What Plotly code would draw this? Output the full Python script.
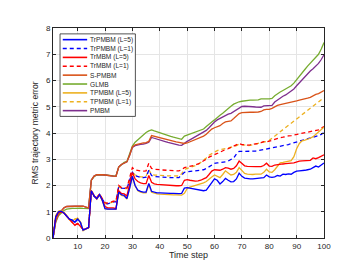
import plotly.graph_objects as go

t = list(range(1, 101))

names = ["TrPMBM (L=5)", "TrPMBM (L=1)", "TrMBM (L=5)", "TrMBM (L=1)", "S-PMBM",
         "GLMB", "TPMBM (L=5)", "TPMBM (L=1)", "PMBM"]

trpmbm_l5 = [0, 0.8, 1.0, 1.02, 0.95, 0.85, 0.72, 0.68, 0.6, 0.72,
             0.6, 0.3, 0.35, 0.4, 1.8, 1.6, 1.5, 1.65, 1.45, 1.12,
             1.1, 1.1, 1.12, 1.1, 1.75, 1.65, 1.62, 1.5, 1.9, 2.35,
             2.0, 1.82, 1.78, 1.75, 1.75, 2.08, 1.78, 1.74, 1.72, 1.72,
             1.71, 1.71, 1.7, 1.7, 1.7, 1.69, 1.69, 1.7, 1.9, 1.92,
             1.9, 1.88, 1.86, 1.84, 1.81, 1.8, 1.82, 1.95, 2.1, 2.25,
             2.2, 2.06, 2.15, 2.27, 2.2, 2.14, 2.15, 2.25, 2.47, 2.35,
             2.28, 2.26, 2.25, 2.25, 2.26, 2.26, 2.27, 2.3, 2.4, 2.33,
             2.31, 2.33, 2.38, 2.36, 2.43, 2.42, 2.44, 2.43, 2.5, 2.55,
             2.56, 2.56, 2.58, 2.6, 2.62, 2.68, 2.74, 2.7, 2.78, 2.86]

trpmbm_l1 = [0, 0.8, 1.0, 1.02, 0.95, 0.85, 0.72, 0.68, 0.6, 0.72,
             0.6, 0.3, 0.35, 0.4, 1.8, 1.6, 1.52, 1.66, 1.48, 1.32,
             1.3, 1.35, 1.38, 1.38, 1.95, 1.9, 1.9, 1.88, 2.2, 2.5,
             2.38, 2.33, 2.31, 2.3, 2.32, 2.58, 2.38, 2.34, 2.33, 2.32,
             2.32, 2.31, 2.31, 2.3, 2.3, 2.3, 2.3, 2.4, 2.5, 2.52,
             2.53, 2.54, 2.55, 2.56, 2.58, 2.6, 2.65, 2.72, 2.78, 2.84,
             2.86, 2.87, 2.89, 2.9, 2.93, 2.98, 3.05, 3.2, 3.3, 3.3,
             3.3, 3.3, 3.3, 3.3, 3.31, 3.33, 3.35, 3.36, 3.37, 3.4,
             3.42, 3.44, 3.46, 3.48, 3.5, 3.52, 3.56, 3.6, 3.63, 3.66,
             3.7, 3.73, 3.75, 3.78, 3.8, 3.83, 3.86, 3.9, 3.95, 4.02]

trmbm_l5 = [0, 0.8, 0.98, 1.0, 0.95, 0.82, 0.7, 0.6, 0.48, 0.55,
            0.45, 0.32, 0.35, 0.4, 1.8, 1.6, 1.5, 1.65, 1.45, 1.2,
            1.15, 1.15, 1.15, 1.12, 1.8, 1.7, 1.68, 1.6, 2.0, 2.5,
            2.25, 2.15, 2.1, 2.07, 2.07, 2.38, 2.12, 2.06, 2.04, 2.03,
            2.02, 2.02, 2.01, 2.0, 2.0, 1.99, 1.99, 2.0, 2.2, 2.22,
            2.2, 2.18, 2.17, 2.18, 2.2, 2.25, 2.3, 2.42, 2.55, 2.6,
            2.6, 2.58, 2.62, 2.68, 2.66, 2.62, 2.65, 2.75, 2.93, 2.82,
            2.75, 2.73, 2.72, 2.72, 2.72, 2.72, 2.72, 2.76, 2.85, 2.74,
            2.73, 2.78, 2.8, 2.8, 2.82, 2.83, 2.85, 2.85, 2.86, 2.9,
            2.93, 2.94, 2.95, 2.96, 2.96, 3.05, 3.02, 3.06, 3.1, 3.17]

trmbm_l1 = [0, 0.8, 0.98, 1.0, 0.95, 0.82, 0.7, 0.6, 0.5, 0.55,
            0.45, 0.32, 0.35, 0.4, 1.82, 1.62, 1.55, 1.68, 1.5, 1.35,
            1.33, 1.38, 1.4, 1.4, 2.0, 1.92, 1.92, 1.9, 2.3, 2.68,
            2.6, 2.56, 2.55, 2.55, 2.56, 2.85, 2.65, 2.62, 2.6, 2.6,
            2.59, 2.58, 2.58, 2.57, 2.57, 2.56, 2.56, 2.6, 2.68, 2.7,
            2.72, 2.74, 2.78, 2.82, 2.87, 2.93, 3.0, 3.08, 3.14, 3.18,
            3.22, 3.28, 3.33, 3.37, 3.4, 3.45, 3.5, 3.55, 3.6, 3.56,
            3.54, 3.54, 3.55, 3.56, 3.58, 3.6, 3.63, 3.67, 3.66, 3.68,
            3.72, 3.76, 3.8, 3.82, 3.84, 3.87, 3.89, 3.9, 3.92, 3.95,
            3.97, 4.0, 4.0, 4.02, 4.05, 4.06, 4.08, 4.12, 4.18, 4.25]

s_pmbm = [0, 0.65, 0.9, 1.05, 1.15, 1.2, 1.21, 1.21, 1.21, 1.21,
          1.21, 1.21, 1.18, 1.15, 2.2, 2.36, 2.41, 2.42, 2.41, 2.4,
          2.38, 2.37, 2.36, 2.35, 2.7, 2.8, 2.86, 2.9, 3.15, 3.47,
          3.55, 3.58, 3.6, 3.62, 3.63, 3.68, 3.9, 3.87, 3.84, 3.81,
          3.78, 3.75, 3.72, 3.7, 3.68, 3.66, 3.64, 3.62, 3.6, 3.62,
          3.66, 3.7, 3.74, 3.78, 3.84, 3.88, 3.95, 4.05, 4.15, 4.2,
          4.24, 4.28, 4.36, 4.42, 4.44, 4.46, 4.55, 4.65, 4.74, 4.78,
          4.79, 4.79, 4.79, 4.79, 4.79, 4.8, 4.82, 4.88, 4.9, 4.9,
          4.94, 5.0, 5.05, 5.08, 5.1, 5.12, 5.15, 5.18, 5.2, 5.22,
          5.25, 5.27, 5.3, 5.33, 5.36, 5.42, 5.47, 5.5, 5.55, 5.62]

glmb = [0, 0.6, 0.85, 0.97, 1.05, 1.1, 1.12, 1.13, 1.13, 1.14,
        1.14, 1.13, 1.12, 1.12, 2.2, 2.34, 2.4, 2.41, 2.41, 2.4,
        2.39, 2.38, 2.37, 2.36, 2.7, 2.8, 2.88, 2.92, 3.2, 3.5,
        3.65, 3.75, 3.85, 3.95, 4.02, 4.08, 4.12, 4.08, 4.04, 4.0,
        3.97, 3.93, 3.9, 3.87, 3.84, 3.81, 3.78, 3.76, 3.88, 3.92,
        3.96, 4.0, 4.04, 4.08, 4.11, 4.15, 4.25, 4.35, 4.42, 4.5,
        4.6, 4.68, 4.75, 4.85, 4.95, 5.02, 5.1, 5.15, 5.19, 5.21,
        5.23, 5.24, 5.25, 5.25, 5.26, 5.26, 5.3, 5.31, 5.3, 5.3,
        5.32, 5.42, 5.5, 5.56, 5.62, 5.68, 5.72, 5.8, 5.9, 6.02,
        6.15, 6.28, 6.42, 6.55, 6.67, 6.78, 6.88, 7.0, 7.2, 7.45]

tpmbm_l5 = [0, 0.85, 1.02, 1.05, 0.98, 0.85, 0.7, 0.65, 0.72, 0.75,
            0.62, 0.28, 0.35, 0.4, 1.82, 1.6, 1.48, 1.66, 1.42, 1.12,
            1.1, 1.1, 1.12, 1.1, 1.72, 1.62, 1.6, 1.48, 1.9, 2.33,
            1.98, 1.8, 1.75, 1.72, 1.72, 2.05, 1.74, 1.7, 1.68, 1.67,
            1.66, 1.66, 1.65, 1.65, 1.64, 1.64, 1.63, 1.63, 1.7, 1.88,
            1.94, 1.97, 2.0, 2.02, 2.05, 2.1, 2.15, 2.25, 2.32, 2.4,
            2.35, 2.3, 2.42, 2.56, 2.48, 2.4, 2.42, 2.5, 2.68, 2.55,
            2.46, 2.43, 2.42, 2.42, 2.43, 2.43, 2.43, 2.5, 2.62, 2.52,
            2.5, 2.6, 2.75, 2.86, 2.88, 2.9, 2.92, 2.95, 3.1, 3.4,
            3.6, 3.7, 3.73, 3.76, 3.8, 3.86, 3.95, 4.02, 4.1, 4.22]

tpmbm_l1 = [0, 0.85, 1.02, 1.05, 0.98, 0.85, 0.7, 0.65, 0.72, 0.75,
            0.62, 0.28, 0.35, 0.4, 1.82, 1.6, 1.52, 1.66, 1.48, 1.32,
            1.3, 1.35, 1.38, 1.38, 1.95, 1.9, 1.9, 1.88, 2.2, 2.52,
            2.4, 2.35, 2.33, 2.33, 2.35, 2.6, 2.42, 2.4, 2.39, 2.38,
            2.38, 2.37, 2.37, 2.37, 2.37, 2.36, 2.36, 2.45, 2.6, 2.65,
            2.68, 2.72, 2.76, 2.8, 2.88, 2.95, 3.05, 3.15, 3.22, 3.28,
            3.33, 3.36, 3.38, 3.4, 3.42, 3.45, 3.48, 3.52, 3.58, 3.56,
            3.53, 3.52, 3.53, 3.55, 3.58, 3.6, 3.62, 3.65, 3.68, 3.72,
            3.8, 3.9, 3.98, 4.06, 4.14, 4.22, 4.3, 4.38, 4.45, 4.52,
            4.6, 4.68, 4.76, 4.84, 4.92, 5.0, 5.08, 5.16, 5.25, 5.35]

pmbm = [0, 0.65, 0.9, 1.05, 1.15, 1.2, 1.21, 1.21, 1.21, 1.21,
        1.21, 1.21, 1.18, 1.15, 2.2, 2.36, 2.41, 2.42, 2.41, 2.4,
        2.38, 2.37, 2.36, 2.35, 2.7, 2.8, 2.86, 2.9, 3.15, 3.45,
        3.52, 3.55, 3.57, 3.58, 3.6, 3.65, 3.83, 3.8, 3.76, 3.73,
        3.7, 3.67, 3.64, 3.61, 3.58, 3.56, 3.54, 3.53, 3.62, 3.68,
        3.74, 3.8, 3.86, 3.92, 3.98, 4.02, 4.1, 4.2, 4.32, 4.42,
        4.5, 4.56, 4.62, 4.68, 4.72, 4.75, 4.82, 4.9, 4.97, 5.01,
        5.02, 5.02, 5.01, 5.0, 4.99, 4.98, 4.98, 5.03, 5.04, 5.03,
        5.05, 5.18, 5.26, 5.33, 5.4, 5.45, 5.52, 5.6, 5.68, 5.8,
        5.92, 6.04, 6.15, 6.26, 6.36, 6.45, 6.55, 6.65, 6.8, 6.98]

x_ticks = [10, 20, 30, 40, 50, 60, 70, 80, 90, 100]
y_ticks = [0, 1, 2, 3, 4, 5, 6, 7, 8]

series = [trpmbm_l5, trpmbm_l1, trmbm_l5, trmbm_l1, s_pmbm, glmb, tpmbm_l5, tpmbm_l1, pmbm]
colors = ["#0000FF", "#0000FF", "#FF0000", "#FF0000", "#D95319",
          "#77AC30", "#EDB120", "#EDB120", "#7E2F8E"]
dashes = ["solid", "4px,3px", "solid", "4px,3px", "solid", "solid", "solid", "4px,3px", "solid"]

fig = go.Figure()
order = [5, 8, 4, 7, 1, 3, 6, 2, 0]
for i in order:
    fig.add_trace(go.Scatter(x=t, y=series[i], mode="lines", name=names[i],
                             line=dict(color=colors[i], width=1.3, dash=dashes[i]),
                             showlegend=False))

FONT = "Liberation Sans, Arial, Helvetica, sans-serif"
TXT = "#262626"

# compact MATLAB-style legend
lx0, lx1 = 0.026, 0.304
ly_top, ly_bot = 0.972, 0.579
fig.add_shape(type="rect", xref="paper", yref="paper", x0=lx0, x1=lx1, y0=ly_bot, y1=ly_top,
              line=dict(color="#262626", width=0.8), fillcolor="white", layer="above")
step = (ly_top - ly_bot) / 9.3
for k, nm in enumerate(names):
    yy = ly_top - step * (k + 0.65)
    fig.add_shape(type="line", xref="paper", yref="paper", x0=0.036, x1=0.126, y0=yy, y1=yy,
                  line=dict(color=colors[k], width=1.6, dash=dashes[k]), layer="above")
    fig.add_annotation(xref="paper", yref="paper", x=0.13, y=yy, text=nm, showarrow=False,
                       xanchor="left", yanchor="middle",
                       font=dict(family=FONT, size=6.6, color=TXT))

fig.update_layout(
    width=350, height=263,
    margin=dict(l=45, r=34, t=20, b=29),
    paper_bgcolor="white", plot_bgcolor="white",
    font=dict(family=FONT, size=8, color=TXT),
    showlegend=False,
)
fig.update_xaxes(range=[1, 100], tickvals=x_ticks, ticks="inside", ticklen=3, tickcolor=TXT,
                 showgrid=True, gridcolor="#E5E5E5", gridwidth=1, zeroline=False,
                 showline=True, linecolor=TXT, linewidth=0.8, mirror="ticks",
                 tickfont=dict(size=8, color=TXT),
                 title=dict(text="Time step", font=dict(size=9, color=TXT), standoff=2))
fig.update_yaxes(range=[0, 8], tickvals=y_ticks, ticks="inside", ticklen=3, tickcolor=TXT,
                 showgrid=True, gridcolor="#E5E5E5", gridwidth=1, zeroline=False,
                 showline=True, linecolor=TXT, linewidth=0.8, mirror="ticks",
                 tickfont=dict(size=8, color=TXT),
                 title=dict(text="RMS trajectory metric error", font=dict(size=8.6, color=TXT), standoff=6))

fig.write_html("out.html")
